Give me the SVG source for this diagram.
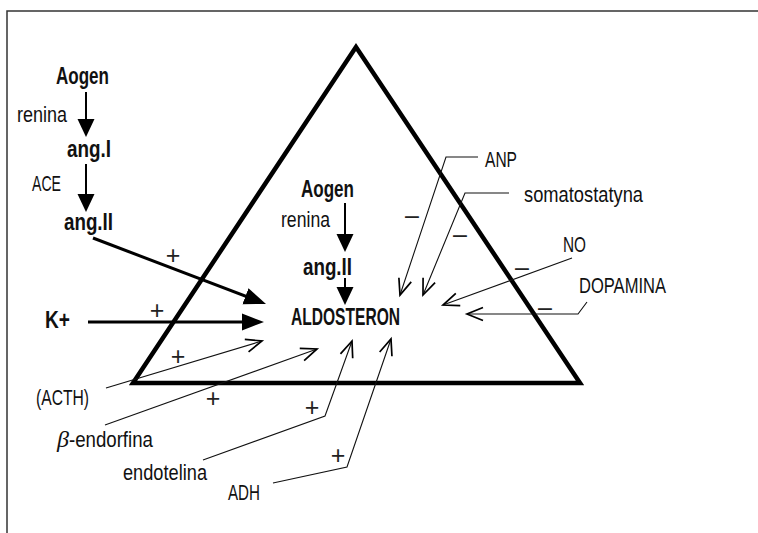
<svg xmlns="http://www.w3.org/2000/svg" width="758" height="533" viewBox="0 0 758 533">
<defs>
<style>
text{font-family:"Liberation Sans",Arial,sans-serif;fill:#111;}
.b{font-weight:bold;font-size:23.5px;}
.r{font-size:22.5px;}
.sign{font-size:25px;text-anchor:middle;fill:#222;}
.thick{stroke:#000;stroke-width:3;fill:none;}
.mid{stroke:#000;stroke-width:2;fill:none;}
.thin{stroke:#111;stroke-width:1.1;fill:none;}
</style>
<marker id="fa" markerUnits="userSpaceOnUse" markerWidth="30" markerHeight="24" viewBox="0 -12 30 24" refX="16" refY="0" orient="auto"><path d="M0,-8.5 L22,0 L0,8.5 Z" fill="#000"/></marker>
<marker id="fs" markerUnits="userSpaceOnUse" markerWidth="24" markerHeight="24" viewBox="0 -12 24 24" refX="14" refY="0" orient="auto"><path d="M0,-8.5 L18,0 L0,8.5 Z" fill="#000"/></marker>
<marker id="oa" markerUnits="userSpaceOnUse" markerWidth="24" markerHeight="24" viewBox="-20 -12 24 24" refX="0" refY="0" orient="auto"><path d="M-16,-6.5 L0,0 L-16,6.5" fill="none" stroke="#000" stroke-width="1.7"/></marker>
</defs>
<rect width="758" height="533" fill="#fff"/>
<path d="M7,533 L7,11 L758,11" fill="none" stroke="#333" stroke-width="1.5"/>
<g id="triangle"><polygon points="356,47 133,383 580,383" fill="none" stroke="#000" stroke-width="4.5" stroke-linejoin="miter"/></g>

<g id="connectors">
<line class="mid" x1="86" y1="92" x2="86" y2="133" marker-end="url(#fs)"/>
<line class="mid" x1="86" y1="164" x2="86" y2="208" marker-end="url(#fs)"/>
<line class="thick" x1="93" y1="238" x2="260.4" y2="301.9" marker-end="url(#fa)"/>
<line class="thick" x1="88" y1="322" x2="258" y2="322" marker-end="url(#fa)"/>
<line class="mid" x1="345" y1="203" x2="345" y2="248" marker-end="url(#fs)"/>
<line class="mid" x1="345" y1="278" x2="345" y2="301" marker-end="url(#fs)"/>
<path class="thin" d="M478,157 L446,157 L400,295" marker-end="url(#oa)"/>
<path class="thin" d="M509,193 L465,193 L423,295" marker-end="url(#oa)"/>
<path class="thin" d="M572,258 L443,305" marker-end="url(#oa)"/>
<path class="thin" d="M587,302 L578,314 L467,314" marker-end="url(#oa)"/>
<path class="thin" d="M106,388 L262,341" marker-end="url(#oa)"/>
<path class="thin" d="M105,425 L317,349" marker-end="url(#oa)"/>
<path class="thin" d="M203,460 L325,416 L352,341" marker-end="url(#oa)"/>
<path class="thin" d="M273,483 L347,467 L391,339" marker-end="url(#oa)"/>
</g>

<g id="signs">
<text class="sign" x="173" y="264">+</text>
<text class="sign" x="157" y="319">+</text>
<text class="sign" x="178" y="365">+</text>
<text class="sign" x="213" y="407">+</text>
<text class="sign" x="312" y="416">+</text>
<text class="sign" x="338" y="464">+</text>
<text class="sign" x="412" y="224">–</text>
<text class="sign" x="460" y="243">–</text>
<text class="sign" x="522" y="276">–</text>
<text class="sign" x="545" y="316">–</text>
</g>

<g id="aogen-left"><text class="b" x="56" y="84" textLength="53" lengthAdjust="spacingAndGlyphs">Aogen</text></g>
<g id="renina-left"><text class="r" x="17" y="122" textLength="50" lengthAdjust="spacingAndGlyphs">renina</text></g>
<g id="angI"><text class="b" x="67" y="157" textLength="44" lengthAdjust="spacingAndGlyphs">ang.I</text></g>
<g id="ace"><text class="r" x="32" y="191" textLength="29" lengthAdjust="spacingAndGlyphs">ACE</text></g>
<g id="angII-left"><text class="b" x="64" y="230" textLength="49" lengthAdjust="spacingAndGlyphs">ang.II</text></g>
<g id="kplus"><text class="b" x="45" y="328" textLength="25" lengthAdjust="spacingAndGlyphs">K+</text></g>
<g id="aogen-center"><text class="b" x="301" y="197" textLength="53" lengthAdjust="spacingAndGlyphs">Aogen</text></g>
<g id="renina-center"><text class="r" x="281" y="227" textLength="49" lengthAdjust="spacingAndGlyphs">renina</text></g>
<g id="angII-center"><text class="b" x="303" y="275" textLength="49" lengthAdjust="spacingAndGlyphs">ang.II</text></g>
<g id="aldosteron"><text class="b" x="291" y="325" style="font-size:24.5px" textLength="109" lengthAdjust="spacingAndGlyphs">ALDOSTERON</text></g>
<g id="anp"><text class="r" x="485" y="167" textLength="32" lengthAdjust="spacingAndGlyphs">ANP</text></g>
<g id="somatostatyna"><text class="r" x="524" y="202" textLength="119" lengthAdjust="spacingAndGlyphs">somatostatyna</text></g>
<g id="no"><text class="r" x="563" y="252" textLength="23" lengthAdjust="spacingAndGlyphs">NO</text></g>
<g id="dopamina"><text class="r" x="579" y="293" textLength="87" lengthAdjust="spacingAndGlyphs">DOPAMINA</text></g>
<g id="acth"><text class="r" x="36" y="405" textLength="53" lengthAdjust="spacingAndGlyphs">(ACTH)</text></g>
<g id="beta-endorfina"><text class="r" x="57" y="447"><tspan style="font-family:'Liberation Serif',serif;font-style:italic;font-size:24px">β</tspan><tspan textLength="84" lengthAdjust="spacingAndGlyphs">-endorfina</tspan></text></g>
<g id="endotelina"><text class="r" x="123" y="480" textLength="84" lengthAdjust="spacingAndGlyphs">endotelina</text></g>
<g id="adh"><text class="r" x="228" y="500" textLength="32" lengthAdjust="spacingAndGlyphs">ADH</text></g>
</svg>
